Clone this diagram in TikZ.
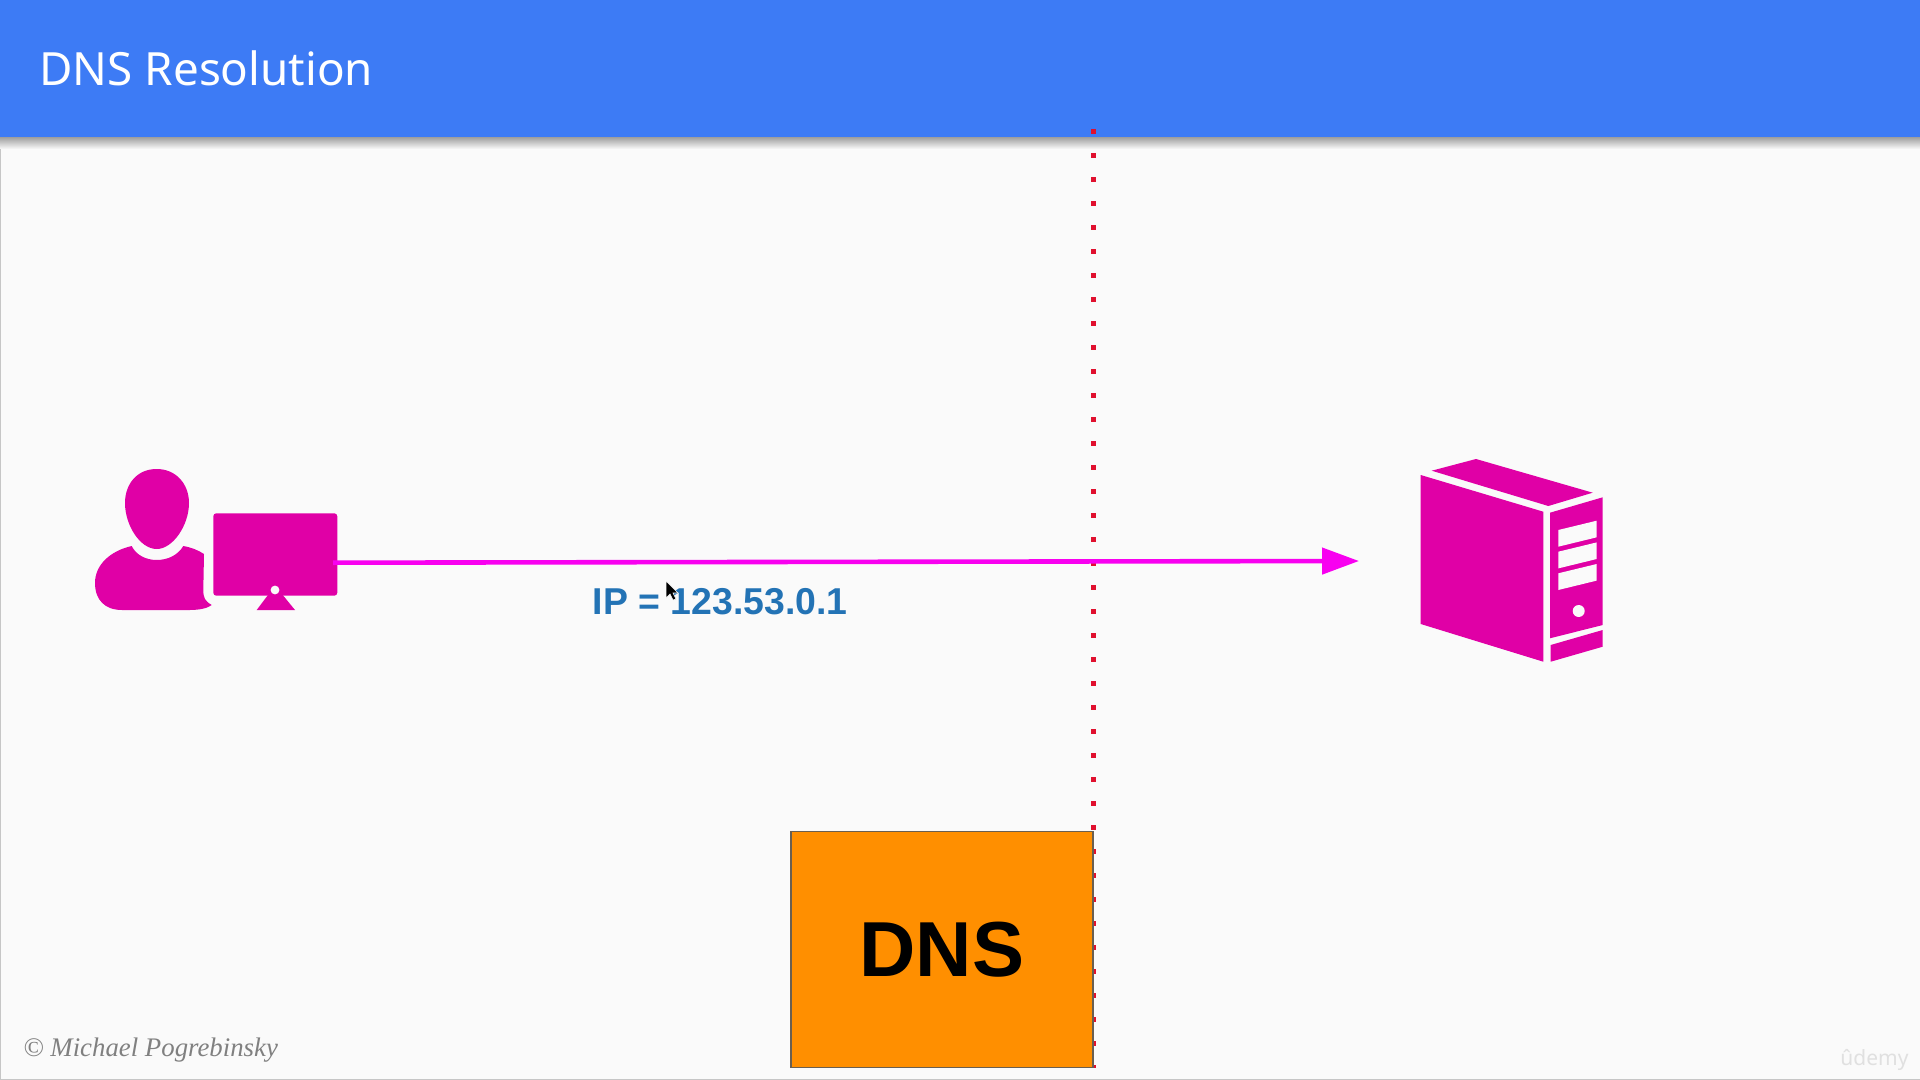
\documentclass[tikz,border=0pt]{standalone}
\usepackage{fontspec}
\setmainfont{Liberation Sans}
\newfontfamily\titlefont{Noto Sans}
\newfontfamily\creditfont{Liberation Serif}
\usetikzlibrary{arrows.meta}
\definecolor{headerblue}{HTML}{3D7BF5}
\definecolor{pagegray}{HTML}{FAFAFA}
\definecolor{iconpink}{HTML}{E000A6}
\definecolor{arrowpink}{HTML}{F800F0}
\definecolor{dnsorange}{HTML}{FF8F00}
\definecolor{dotred}{HTML}{E0102E}
\definecolor{labelblue}{HTML}{2373B5}
\tikzset{
	icon/.style={fill=iconpink, draw=none},
	hole/.style={fill=pagegray, draw=none},
	textlabel/.style={inner sep=0pt, anchor=base west}
}
\begin{document}
\begin{tikzpicture}[x=0.5pt, y=-0.5pt]
	\useasboundingbox (0,0) rectangle (1920,1080);
	\fill[pagegray] (0,0) rectangle (1920,1080);
	\draw[gray!45, line width=1pt] (0,137) -- (0,1080) -- (1920,1080);

	% header bar
	\shade[top color=black!38, bottom color=pagegray] (0,137) rectangle (1920,149);
	\fill[headerblue] (0,0) rectangle (1920,137);
	\node[textlabel, text=white, font=\titlefont\fontsize{22.9}{28}\selectfont] (title) at (39,86) {DNS Resolution};

	% user
	\draw[icon] (156.7,469) .. controls (137,469) and (125,484) .. (125,503)
		.. controls (125,525) and (140,549) .. (156.7,549)
		.. controls (173,549) and (189,525) .. (189,503)
		.. controls (189,484) and (176,469) .. (156.7,469) -- cycle;
	\draw[icon] (131.7,546) .. controls (110,551) and (95,565) .. (95,583)
		.. controls (95,600) and (105,610) .. (122,610)
		-- (190,610) .. controls (200,610) and (208,608) .. (211.7,605)
		.. controls (205,601) and (203.3,598) .. (203.3,590)
		-- (204,554) .. controls (198,550) and (190,547) .. (183.3,546)
		.. controls (178,555) and (168,560) .. (156.7,560)
		.. controls (146,560) and (136,555) .. (131.7,546) -- cycle;

	% monitor
	\node[icon, rounded corners=1.5pt, minimum width=62pt, minimum height=41.2pt, inner sep=0pt] (monitor) at (275.3,554.5) {};
	\draw[icon] (268,595) -- (256.7,610) -- (295,610) -- (282.7,595) -- cycle;
	\fill[hole] (275,590) circle (2.2pt);

	% server
	\draw[icon] (1420.7,475) -- (1543.3,511.7) -- (1543.3,661.7) -- (1420.7,624) -- cycle;
	\draw[icon] (1431.7,470.7) -- (1476,459) -- (1592.7,492.7) -- (1548.3,506) -- cycle;
	\draw[icon] (1550,512.7) -- (1602.7,497.3) -- (1602.7,625) -- (1550,638.3) -- cycle;
	\draw[icon] (1550.7,645) -- (1602.7,630) -- (1602.7,646.7) -- (1550.7,661.7) -- cycle;
	\foreach \y in {0,21.7,43.3} {
		\fill[hole] (1558.3,530+\y) -- (1596.7,520.7+\y) -- (1596.7,537.3+\y) -- (1558.3,546.7+\y) -- cycle;
	}
	\fill[hole] (1578.7,611) circle (3pt);

	% dotted line and dns box
	\coordinate (dotTop) at (1093.4,129.2);
	\coordinate (dotEnd) at (1093.4,1068);
	\draw[dotred, line width=2.5pt, dash pattern=on 2.5pt off 9.5pt] (dotTop) -- (dotEnd);
	\node[fill=dnsorange, draw=black!30!gray!90!dnsorange, line width=0.8pt, minimum width=151pt, minimum height=118pt, inner sep=0pt, font=\bfseries\fontsize{39}{48}\selectfont] (dns) at (941.7,949.5) {DNS};

	% request arrow
	\coordinate (src) at (333,562.7);
	\coordinate (dst) at (1359,561);
	\draw[arrowpink, line width=2.3pt, -{Triangle[length=18.5pt, width=13pt]}] (src) -- (dst);

	% texts
	\node[textlabel, text=labelblue, font=\bfseries\fontsize{18.7}{22}\selectfont] (iplabel) at (592.5,614.5) {IP = 123.53.0.1};
	\node[textlabel, text=black!50, font=\creditfont\itshape\fontsize{13.4}{17}\selectfont] (credit) at (23,1056.5) {© Michael Pogrebinsky};
	\node[textlabel, text=black!12, font=\titlefont\fontsize{10.5}{13}\selectfont] (udemy) at (1840,1065) {ûdemy};

	% mouse pointer
	\draw[fill=black, draw=white, line width=0.3pt] (666,581) -- (666,598) -- (670,594) -- (673,600) -- (676,599) -- (673,593) -- (678,593) -- cycle;
\end{tikzpicture}
\end{document}
